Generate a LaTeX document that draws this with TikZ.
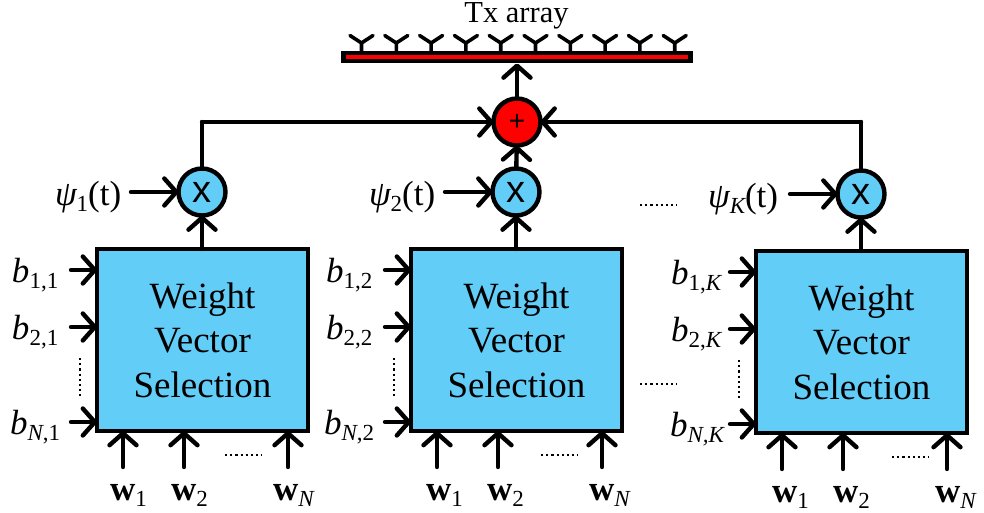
\documentclass[tikz,border=0pt]{standalone}
\usepackage{fontspec}
\setmainfont{Liberation Serif}
\newfontfamily\arialf{Liberation Sans}
\usetikzlibrary{arrows.meta}
\newcommand{\lblb}[2]{{\fontsize{35}{35}\selectfont\itshape #1}{\fontsize{23}{23}\selectfont\raisebox{-6pt}{#2}}}
\tikzset{
  wire/.style={line width=4.4pt,line cap=round,-{Straight Barb[length=12pt,width=27pt,line width=4.4pt,round]}},
  plainwire/.style={line width=4.4pt,line cap=round},
  blockbox/.style={draw,line width=4.4pt,fill=skyb,minimum width=211pt,minimum height=182pt,inner sep=0pt,outer sep=0pt,align=center,font=\fontsize{37}{44.5}\selectfont},
  mult/.style={circle,draw,line width=4.4pt,fill=skyb,minimum size=47pt,inner sep=0pt,outer sep=0pt,font=\arialf\fontsize{38}{38}\selectfont},
  addr/.style={circle,draw,line width=4.4pt,fill=red,minimum size=47pt,inner sep=0pt,outer sep=0pt,font=\arialf\fontsize{28}{28}\selectfont},
  lbl/.style={anchor=base west,inner sep=0pt,outer sep=0pt},
  dotty/.style={line width=2.2pt,dash pattern=on 2.2pt off 3pt},
  ant/.style={line width=3.6pt,line cap=round,line join=round}
}
\definecolor{skyb}{HTML}{62CDF7}
\begin{document}
\begin{tikzpicture}[x=1pt,y=-1pt]
\useasboundingbox (0,0) rectangle (984,512);
% array
\node[draw,line width=4.4pt,fill=red,minimum width=347pt,minimum height=8.5pt,inner sep=0pt,outer sep=2.2pt] (bar) at (517,57) {};
\node[anchor=base,inner sep=0pt,font=\fontsize{30.5}{30.5}\selectfont] (tx) at (516.5,22) {Tx array};
\foreach \k in {0,...,9} {
  \draw[ant] ({361.5+34.8*\k},51) -- ({361.5+34.8*\k},43) -- ({350+34.8*\k},35.5);
  \draw[ant] ({361.5+34.8*\k},43) -- ({373+34.8*\k},35.5);
}
\node[addr] (plus) at (517,122) {+};
\draw[wire] (plus) -- (plus|-bar.south);
\foreach \i/\X/\Y/\psub/\psix/\dx/\wl/\sub in {
  1/97/249/1/-42/128/-13/1,
  2/411/249/2/-42/130/-11/2,
  3/756/251/K/-48/136/-10/K}
{
  \node[blockbox] (b\i) at ({\X+105.5},{\Y+91}) {Weight\\Vector\\Selection};
  \node[mult] (m\i) at ({\X+105},{\Y-57}) {x};
  \draw[wire] (b\i.north-|m\i) -- (m\i);
  % psi
  \if K\psub
    \node[lbl] (p\i) at ({\X+\psix},{\Y-44}) {\lblb{ψ}{\itshape K}\fontsize{35}{35}\selectfont (t)};
  \else
    \node[lbl] (p\i) at ({\X+\psix},{\Y-44}) {\lblb{ψ}{\psub}\fontsize{35}{35}\selectfont (t)};
  \fi
  \coordinate (ps\i) at ({\X+34},{\Y-57});
  \draw[wire] (ps\i) -- (m\i);
  % b inputs
  \foreach \j/\dy/\nm in {1/21/1,2/78/2,3/173/N} {
    \coordinate (bs\i\j) at ({\X-26},{\Y+\dy});
    \draw[wire] (bs\i\j) -- (b\i.west|-bs\i\j);
    \if K\sub
      \if N\nm
        \node[lbl] (bl\i\j) at ({\X-86},{\Y+\dy+12}) {\lblb{b}{\itshape N,K}};
      \else
        \node[lbl] (bl\i\j) at ({\X-85},{\Y+\dy+12}) {\lblb{b}{\nm,\itshape K}};
      \fi
    \else
      \if N\nm
        \node[lbl] (bl\i\j) at ({\X-87},{\Y+\dy+12}) {\lblb{b}{\itshape N\upshape,\sub}};
      \else
        \node[lbl] (bl\i\j) at ({\X-85},{\Y+\dy+12}) {\lblb{b}{\nm,\sub}};
      \fi
    \fi
  }
  \coordinate (vd\i a) at ({\X-17},{\Y+109});
  \coordinate (vd\i b) at ({\X-17},{\Y+147});
  \draw[dotty] (vd\i a) -- (vd\i b);
  % w inputs
  \foreach \j/\dxx/\nm in {1/26/1,2/87/2,3/191/N} {
    \coordinate (ws\i\j) at ({\X+\dxx},{\Y+218});
    \draw[wire] (ws\i\j) -- (ws\i\j|-b\i.south);
    \if N\nm
      \node[lbl] (wl\i\j) at ({\X+\dxx+\wl-2},{\Y+251}) {{\fontsize{35}{35}\selectfont\bfseries w}{\fontsize{23}{23}\selectfont\raisebox{-6pt}{\itshape N}}};
    \else
      \node[lbl] (wl\i\j) at ({\X+\dxx+\wl},{\Y+251}) {{\fontsize{35}{35}\selectfont\bfseries w}{\fontsize{23}{23}\selectfont\raisebox{-6pt}{\nm}}};
    \fi
  }
  \coordinate (hd\i a) at ({\X+\dx},{\Y+206});
  \coordinate (hd\i b) at ({\X+\dx+37},{\Y+206});
  \draw[dotty] (hd\i a) -- (hd\i b);
}
% summation
\coordinate (cl) at (202,122);
\coordinate (cr) at (861,122);
\draw[plainwire] (m1) -- (cl);
\draw[wire] (cl) -- (plus);
\draw[plainwire] (m3) -- (cr);
\draw[wire] (cr) -- (plus);
\draw[wire] (m2) -- (plus);
\coordinate (d1a) at (640,205);
\coordinate (d1b) at (677,205);
\coordinate (d2a) at (640,384);
\coordinate (d2b) at (677,384);
\draw[dotty] (d1a) -- (d1b);
\draw[dotty] (d2a) -- (d2b);
\end{tikzpicture}
\end{document}
